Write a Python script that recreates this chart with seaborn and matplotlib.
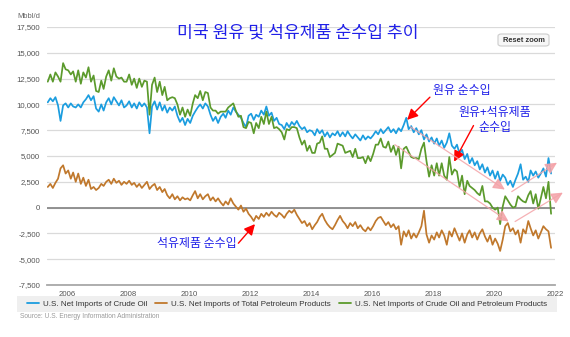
import numpy as np
import pandas as pd
import matplotlib
matplotlib.use("Agg")
import matplotlib.pyplot as plt
import matplotlib.dates as mdates
from matplotlib.patches import FancyBboxPatch, Rectangle
from matplotlib.lines import Line2D
import matplotlib.ticker as mticker
import seaborn as sns

# ---------------- data (thousand bbl/d, monthly, May 2005 - Nov 2021) ----------------
start_month = "2005-05-01"

crude = [
    10200, 10600, 10300, 10700, 9900, 8400, 9900, 10100,
    9700, 10100, 9800, 9700, 10000, 9700, 10200, 10500, 10900, 10400, 10800, 9600,
    9300, 10000, 9400, 10200, 10600, 10000, 10700, 10300, 9900, 10400, 9700, 9900,
    10300, 9700, 10100, 9600, 10200, 9800, 10100, 9700, 7200, 9800, 10300, 9500,
    10200, 9400, 9900, 9200, 9700, 9400, 9800, 8900, 8300, 8700, 8000, 8600,
    8200, 8900, 9300, 9700, 10000, 9600, 10100, 9800, 9000, 8400, 8800, 8200,
    8800, 9100, 8700, 9400, 9000, 9700, 9300, 9000, 8700, 8200, 7800, 8900,
    9100, 8500, 9000, 8800, 9400, 9000, 9800, 8900, 9200, 8400, 8700, 8100,
    8000, 7600, 8200, 7800, 8300, 8000, 8400, 7900, 7600, 7800, 7300, 7500,
    7400, 7000, 7600, 7200, 7500, 6900, 7300, 6800, 7200, 7000, 7400, 6900,
    7300, 6900, 7400, 7000, 6700, 7100, 6800, 6500, 7000, 6600, 6900, 6700,
    7000, 7400, 7100, 7600, 7200, 7500, 7800, 7300, 7600, 7200, 7700, 7400,
    8000, 8700, 7600, 7900, 7300, 7700, 7100, 7500, 6600, 7100, 6400, 6800,
    6200, 6700, 6000, 6500, 5800, 6300, 7200, 6000, 5700, 6100, 5200, 5600,
    4700, 5200, 4300, 4800, 4100, 4500, 3700, 4200, 3400, 3900, 3100, 3600,
    2800, 3500, 2600, 3200, 2900, 2200, 2600, 2000, 2700, 3300, 4200, 2700,
    3000, 2500, 3600, 3100, 3500, 2900, 3300, 3800, 3000, 4800, 3300,
]

products = [
    2000, 2300, 1900, 2400, 2800, 3800, 4100, 3300,
    3600, 2800, 3400, 2500, 3300, 2300, 2900, 2100, 2700, 1800, 2000, 1700,
    1900, 2300, 2100, 2500, 2700, 2300, 2800, 2400, 2600, 2200, 2500, 2300,
    2600, 2200, 2400, 2000, 2300, 1900, 2200, 2500, 1800, 2100, 2300, 1700,
    2000, 1500, 1800, 1200, 900, 1300, 800, 1100, 700, 1000, 800, 900,
    700, 1200, 1600, 900, 1300, 800, 1100, 1300, 700, 1000, 600, 900,
    500, 200, 600, 300, 900, 400, 100, -200, 200, -400, -100, -600,
    -900, -1300, -800, -1100, -600, -900, -500, -800, -400, -700, -900, -500,
    -700, -1000, -600, -300, -500, -200, -700, -1100, -1500, -1300, -1800, -1500,
    -2100, -1700, -1400, -900, -600, -1200, -1600, -1900, -2100, -1700, -1200, -800,
    -1300, -1600, -2000, -1500, -1800, -1400, -2000, -1700, -2100, -2300, -1900, -2200,
    -1800, -1300, -1000, -900, -1300, -1700, -1400, -1900, -1600, -2100, -1800, -3600,
    -2300, -2800, -2200, -3000, -2500, -2900, -2400, -1800, -300, -2600, -3400, -2700,
    -3100, -2400, -2900, -2200, -2700, -3600, -2300, -2800, -2000, -2600, -3200, -2500,
    -3400, -2600, -2200, -2900, -2400, -3100, -2500, -2100, -2800, -3300, -2700, -3600,
    -3000, -3500, -4200, -3100, -1800, -1500, -2300, -2000, -2600, -2200, -3400, -2100,
    -2500, -1300, -2000, -2700, -2200, -3000, -2400, -1800, -2100, -2300, -3900,
]

total = [
    12200, 12900, 12200, 13100, 12700, 12200, 14000, 13400,
    13300, 12900, 13200, 12200, 13300, 12000, 13100, 12600, 13600, 12200, 12800, 11300,
    11200, 12300, 11500, 12700, 13300, 12300, 13500, 12700, 12500, 12600, 12200, 12200,
    12900, 11900, 12500, 11600, 12500, 11700, 12300, 12200, 9000, 11900, 12600, 11200,
    12200, 10900, 11700, 10400, 10600, 10700, 10600, 10000, 9000, 9700, 8800, 9500,
    8900, 10100, 10900, 10600, 11300, 10400, 11200, 11100, 9700, 9400, 9400, 9100,
    9300, 9300, 9300, 9700, 9900, 10100, 9400, 8800, 8900, 7800, 7700, 8300,
    8200, 7200, 8200, 7700, 8800, 8100, 9300, 8100, 8800, 7700, 7800, 7600,
    7300, 6600, 7600, 7500, 7800, 7800, 7700, 6800, 6100, 6500, 5500, 6000,
    5300, 5300, 6200, 6300, 6900, 5700, 5700, 4900, 5100, 5300, 6200, 6100,
    6000, 5300, 5400, 5500, 4900, 5700, 4800, 4800, 4900, 4300, 5000, 4500,
    5200, 6100, 6100, 6700, 5900, 5800, 6400, 5400, 6000, 5100, 5900, 3800,
    5700, 5900, 5400, 4900, 4800, 4800, 4700, 5700, 6300, 4500, 3000, 4100,
    3100, 4300, 3100, 4300, 3100, 2700, 4900, 3200, 3700, 3500, 2000, 3100,
    1300, 2600, 2100, 1900, 1700, 1400, 1200, 2100, 600, 600, 400, 0,
    -200, 0, -1600, 100, 1100, 700, 300, 0, 100, 1100, 800, 600,
    500, 1200, 1600, 400, 1300, -100, 900, 2000, 900, 2500, -600,
]

series_names = [
    "U.S. Net Imports of Crude Oil",
    "U.S. Net Imports of Total Petroleum Products",
    "U.S. Net Imports of Crude Oil and Petroleum Products",
]
series_colors = ["#1b9ddf", "#c0782c", "#5b9a2c"]

y_ticks = [-7500, -5000, -2500, 0, 2500, 5000, 7500, 10000, 12500, 15000, 17500]
title_text = "미국 원유 및 석유제품 순수입 추이"

# ---------------- build frame ----------------
dates = pd.date_range(start_month, periods=len(crude), freq="MS") + pd.Timedelta(days=14)
df = pd.concat([
    pd.DataFrame({"date": dates, "value": vals, "series": name})
    for name, vals in zip(series_names, [crude, products, total])
], ignore_index=True)

sns.set_style("white")
plt.rcParams["font.family"] = ["Liberation Sans", "Noto Sans CJK KR", "DejaVu Sans"]
KR = ["Noto Sans CJK KR", "DejaVu Sans"]

fig = plt.figure(figsize=(5.70, 3.37), dpi=100)
ax = fig.add_axes([47 / 570, 1 - 285 / 337, (555 - 47) / 570, (285 - 27) / 337])

sns.lineplot(data=df, x="date", y="value", hue="series", hue_order=series_names,
             palette=dict(zip(series_names, series_colors)), linewidth=1.25,
             ax=ax, legend=False)

ax.set_ylim(-7500, 17500)
ax.set_xlim(pd.Timestamp("2005-05-06"), pd.Timestamp("2022-01-01"))
ax.set_yticks(y_ticks)
ax.yaxis.set_major_formatter(mticker.FuncFormatter(lambda v, p: f"{int(v):,}"))
ax.xaxis.set_major_locator(mdates.YearLocator(2, month=1, day=1))
ax.xaxis.set_major_formatter(mdates.DateFormatter("%Y"))
ax.set_xlabel("")
ax.set_ylabel("")
ax.yaxis.grid(True, color="#dadada", linewidth=0.9)
ax.set_axisbelow(True)
ax.axhline(0, color="#8a8a8a", linewidth=1.3, zorder=1.5)
for s in ["top", "right", "left"]:
    ax.spines[s].set_visible(False)
ax.spines["bottom"].set_color("#a8a8a8")
ax.spines["bottom"].set_linewidth(1.3)
ax.tick_params(axis="y", length=0, pad=5, labelsize=5.6, labelcolor="#555555")
ax.tick_params(axis="x", length=3, width=0.8, color="#b0b0b0", pad=1,
               labelsize=5.6, labelcolor="#555555")

# ---------------- title / unit ----------------
fig.text(298 / 570, 1 - 33 / 337, title_text, ha="center", va="center",
         fontsize=12.4, color="#2020e8", family=KR)
fig.text(17 / 570, 1 - 17 / 337, "Mbbl/d", ha="left", va="center",
         fontsize=5.4, color="#666666")

# ---------------- reset zoom button ----------------
btn = FancyBboxPatch((498 / 570, 1 - 46 / 337), 51 / 570, 12 / 337,
                     boxstyle="round,pad=0,rounding_size=0.006",
                     transform=fig.transFigure, facecolor="#f7f7f7",
                     edgecolor="#cccccc", linewidth=0.8)
fig.patches.append(btn)
fig.text(523.5 / 570, 1 - 40 / 337, "Reset zoom", ha="center", va="center",
         fontsize=5.4, color="#333333", weight="bold")

# ---------------- annotations ----------------
def d(y):
    return mdates.date2num(pd.Timestamp(y))

red_arrow = dict(arrowstyle="-|>,head_length=0.8,head_width=0.4", color="red",
                 lw=1.0, mutation_scale=8, shrinkA=0, shrinkB=0)
ax.annotate("", xy=(d("2017-02-25"), 8500), xytext=(d("2017-11-25"), 10700),
            arrowprops=red_arrow, annotation_clip=False)
ax.text(d("2018-12-15"), 11300, "원유 순수입", ha="center", va="center",
        fontsize=8.6, color="#2020e8", family=KR)

ax.annotate("", xy=(d("2018-09-10"), 4450), xytext=(d("2019-05-01"), 7950),
            arrowprops=red_arrow, annotation_clip=False)
ax.text(d("2020-01-15"), 9200, "원유+석유제품", ha="center", va="center",
        fontsize=8.6, color="#2020e8", family=KR)
ax.text(d("2020-01-15"), 7750, "순수입", ha="center", va="center",
        fontsize=8.6, color="#2020e8", family=KR)

ax.annotate("", xy=(d("2012-03-01"), -1600), xytext=(d("2011-08-15"), -3450),
            arrowprops=red_arrow, annotation_clip=False)
ax.text(d("2010-04-01"), -3500, "석유제품 순수입", ha="center", va="center",
        fontsize=8.6, color="#2020e8", family=KR)

pink_arrow = dict(arrowstyle="-|>,head_length=1.0,head_width=0.5", color="#f4a3a8",
                  lw=0.9, mutation_scale=7, shrinkA=0, shrinkB=0, alpha=0.85)
trend_segments = [
    (("2017-04-01", 7850), ("2020-05-10", 1750)),
    (("2020-08-01", 1550), ("2022-01-25", 4350)),
    (("2016-10-01", 6100), ("2020-06-25", -1350)),
    (("2020-09-10", -1350), ("2022-04-05", 1450)),
]
for (x0, y0), (x1, y1) in trend_segments:
    ax.annotate("", xy=(d(x1), y1), xytext=(d(x0), y0),
                arrowprops=pink_arrow, annotation_clip=False)

# ---------------- legend ----------------
fig.patches.append(Rectangle((17 / 570, 1 - 312 / 337), 540 / 570, 16 / 337,
                             transform=fig.transFigure, facecolor="#efefef",
                             edgecolor="none"))
handles = [Line2D([0], [0], color=c, lw=1.3) for c in series_colors]
fig.legend(handles, series_names, loc="center", bbox_to_anchor=(287 / 570, 1 - 304 / 337),
           ncol=3, frameon=False, fontsize=5.8, handlelength=1.5, handletextpad=0.5,
           columnspacing=1.0, labelcolor="#333333")

fig.text(20 / 570, 1 - 316.5 / 337, "Source: U.S. Energy Information Administration",
         ha="left", va="center", fontsize=4.8, color="#9a9a9a")

fig.savefig("out.png", dpi=100)
